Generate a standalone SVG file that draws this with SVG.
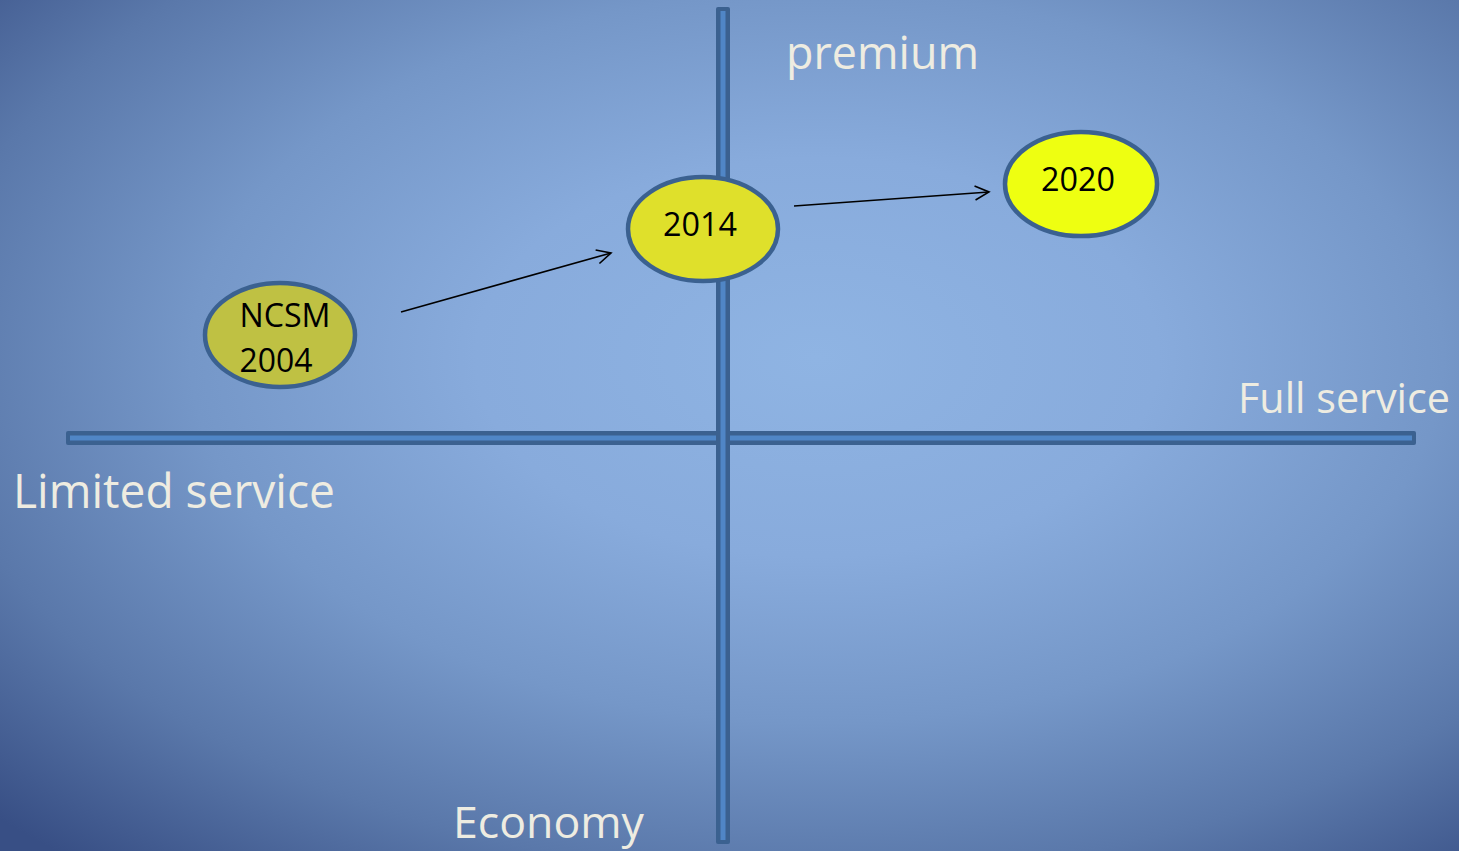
<svg xmlns="http://www.w3.org/2000/svg" width="1459" height="851" viewBox="0 0 1459 851">
  <defs>
    <radialGradient id="bg" cx="0.56" cy="0.42" r="0.78">
      <stop offset="0" stop-color="#8fb4e3"/>
      <stop offset="0.3" stop-color="#88abdc"/>
      <stop offset="0.55" stop-color="#7597c8"/>
      <stop offset="0.78" stop-color="#5a78aa"/>
      <stop offset="1" stop-color="#384f85"/>
    </radialGradient>
    <marker id="open" viewBox="0 0 20 20" refX="18" refY="10" markerWidth="20" markerHeight="20" markerUnits="userSpaceOnUse" orient="auto">
      <path d="M4,3 L18,10 L4,17" fill="none" stroke="#000" stroke-width="1.6"/>
    </marker>
    <style>
      .axis-out { fill: #3b6190; }
      .axis-in { fill: #5086c6; }
      .node ellipse { stroke: #3b6190; stroke-width: 4.5; }
      .node text { font-family: "Open Sans", "Liberation Sans", sans-serif; font-size: 32px; fill: #000; text-anchor: middle; }
      .label { font-family: "Open Sans", "Liberation Sans", sans-serif; fill: #eeece1; }
      .conn { stroke: #000; stroke-width: 1.6; fill: none; }
    </style>
  </defs>
  <rect width="1459" height="851" fill="url(#bg)"/>

  <g id="axes">
    <rect class="axis-out" x="66" y="431" width="1350" height="14" rx="2"/>
    <rect class="axis-in" x="70" y="435.5" width="1342" height="5"/>
    <rect class="axis-out" x="716" y="7" width="14" height="837" rx="2"/>
    <rect class="axis-in" x="720.5" y="11" width="5" height="829"/>
  </g>

  <g id="labels">
    <text class="label" x="786" y="69" font-size="45" textLength="193" lengthAdjust="spacingAndGlyphs">premium</text>
    <text class="label" x="1238" y="413" font-size="42" textLength="212" lengthAdjust="spacingAndGlyphs">Full service</text>
    <text class="label" x="13" y="508" font-size="47" textLength="322" lengthAdjust="spacingAndGlyphs">Limited service</text>
    <text class="label" x="453" y="838" font-size="44" textLength="191" lengthAdjust="spacingAndGlyphs">Economy</text>
  </g>

  <g id="connectors">
    <line class="conn" x1="401" y1="312" x2="611" y2="253" marker-end="url(#open)"/>
    <line class="conn" x1="794" y1="206" x2="989" y2="192" marker-end="url(#open)"/>
  </g>

  <g id="node-ncsm" class="node">
    <ellipse cx="280" cy="335" rx="75" ry="52" fill="#bfc143"/>
    <text x="285" y="327" textLength="91" lengthAdjust="spacingAndGlyphs">NCSM</text>
    <text x="276" y="372" textLength="73" lengthAdjust="spacingAndGlyphs">2004</text>
  </g>

  <g id="node-2014" class="node">
    <ellipse cx="703" cy="229" rx="75" ry="52" fill="#dfe02b"/>
    <text x="700" y="236" textLength="74" lengthAdjust="spacingAndGlyphs">2014</text>
  </g>

  <g id="node-2020" class="node">
    <ellipse cx="1081" cy="184" rx="76" ry="52" fill="#eeff11"/>
    <text x="1078" y="191" textLength="74" lengthAdjust="spacingAndGlyphs">2020</text>
  </g>
</svg>
